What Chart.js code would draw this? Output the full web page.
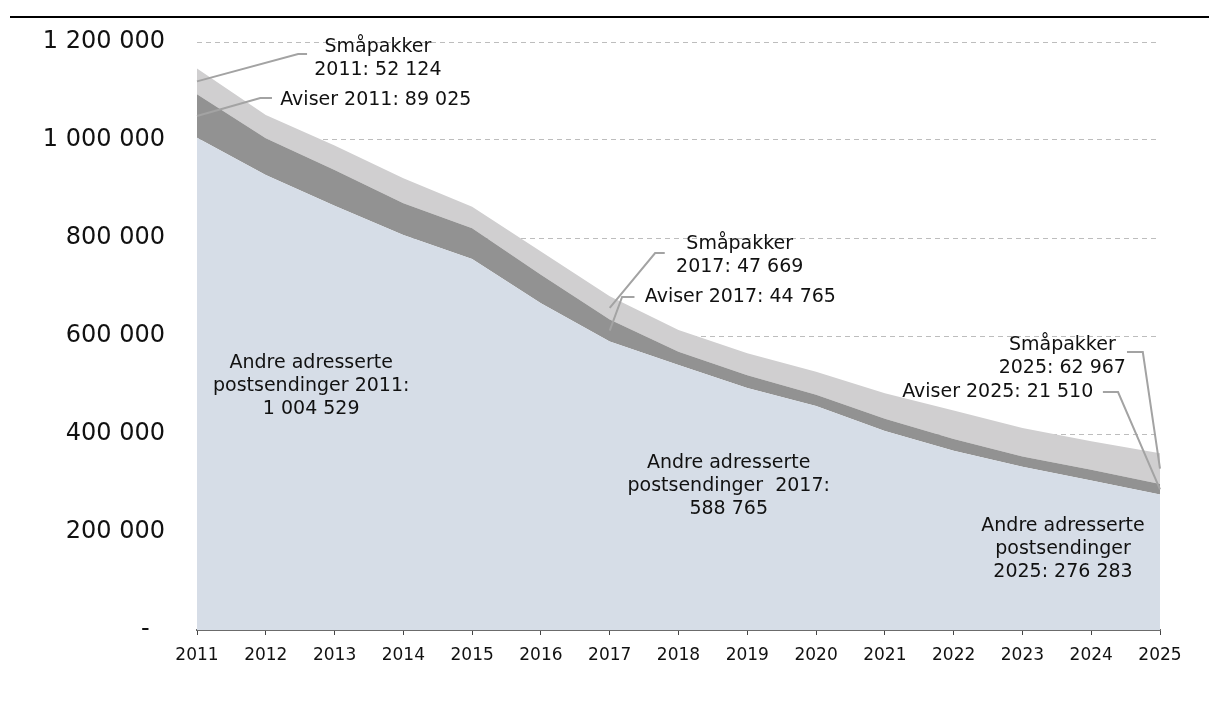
<!DOCTYPE html>
<html>
<head>
<meta charset="utf-8">
<script src="https://cdn.jsdelivr.net/npm/chart.js@4.4.0/dist/chart.umd.min.js"></script>
<style>
	html, body { margin: 0; padding: 0; background: #fff; }
	#wrap { position: relative; width: 1209px; height: 715px; }
	#topline { position: absolute; left: 10px; right: 0; top: 16px; height: 2px; background: #000; }
</style>
</head>
<body>
<div id="wrap">
	<canvas id="mycanvas" width="1209" height="715"></canvas>
	<div id="topline"></div>
</div>
<script>
var years = ['2011', '2012', '2013', '2014', '2015', '2016', '2017', '2018', '2019', '2020', '2021', '2022', '2023', '2024', '2025'];
var andre = [1004529, 928700, 866000, 806000, 757000, 667000, 588765, 541000, 494000, 457000, 406000, 366000, 333000, 305000, 276283];
var aviser = [89025, 75000, 73000, 65000, 63000, 58000, 44765, 27000, 26000, 23000, 25000, 24000, 21000, 22000, 21510];
var smapakker = [52124, 47500, 50000, 51000, 44000, 47500, 47669, 44000, 45000, 47000, 52000, 58000, 58000, 58000, 62967];
var yTicks = ['-\u00a0\u00a0', '200 000', '400 000', '600 000', '800 000', '1 000 000', '1 200 000'];

var font = '"DejaVu Sans", Verdana, sans-serif';

// text notes, placed in axis units (x = year index, y = value)
var notes = [
	{ x: 2.63, y: 1166000, align: 'center', lines: ['Småpakker', '2011: 52 124'] },
	{ x: 1.21, y: 1081600, align: 'left', lines: ['Aviser 2011: 89 025'] },
	{ x: 7.89, y: 765000, align: 'center', lines: ['Småpakker', '2017: 47 669'] },
	{ x: 6.51, y: 679600, align: 'left', lines: ['Aviser 2017: 44 765'] },
	{ x: 1.66, y: 498000, align: 'center', lines: ['Andre adresserte', 'postsendinger 2011:', '1 004 529'] },
	{ x: 7.73, y: 293000, align: 'center', lines: ['Andre adresserte', 'postsendinger  2017:', '588 765'] },
	{ x: 12.59, y: 165000, align: 'center', lines: ['Andre adresserte', 'postsendinger', '2025: 276 283'] },
	{ x: 12.58, y: 558000, align: 'center', lines: ['Småpakker', '2025: 62 967'] },
	{ x: 13.03, y: 485700, align: 'right', lines: ['Aviser 2025: 21 510'] }
];

// leader lines, from the band to the note
var leaders = [
	[[0, 1119600], [1.47, 1175500], [1.60, 1175500]],
	[[0, 1049000], [0.92, 1085700], [1.09, 1085700]],
	[[6, 657400], [6.66, 769400], [6.80, 769400]],
	[[6, 611150], [6.18, 679600], [6.36, 679600]],
	[[14, 329300], [13.75, 567300], [13.52, 567300]],
	[[14, 287000], [13.39, 485700], [13.17, 485700]]
];

var notePlugin = {
	id: 'notes',
	afterDatasetsDraw: function(chart) {
		var ctx = chart.ctx;
		var xs = chart.scales.x;
		var ys = chart.scales.y;
		ctx.save();
		ctx.strokeStyle = '#a3a3a3';
		ctx.lineWidth = 2;
		leaders.forEach(function(l) {
			ctx.beginPath();
			l.forEach(function(p, i) {
				var px = xs.getPixelForValue(p[0]);
				var py = ys.getPixelForValue(p[1]);
				if (i == 0) ctx.moveTo(px, py); else ctx.lineTo(px, py);
			});
			ctx.stroke();
		});
		ctx.fillStyle = '#111';
		ctx.font = '19px ' + font;
		ctx.textBaseline = 'middle';
		notes.forEach(function(n) {
			var px = xs.getPixelForValue(n.x);
			var py = ys.getPixelForValue(n.y);
			var lh = 23;
			var start = py - (n.lines.length - 1) * lh / 2;
			ctx.textAlign = n.align;
			n.lines.forEach(function(t, i) {
				ctx.fillText(t, px, start + i * lh);
			});
		});
		ctx.restore();
	}
};

var chartdata = {
	labels: years,
	datasets: [
		{
			label: 'Andre adresserte postsendinger',
			data: andre,
			backgroundColor: '#d6dde7',
			fill: 'origin'
		},
		{
			label: 'Aviser',
			data: aviser,
			backgroundColor: '#929292',
			fill: '-1'
		},
		{
			label: 'Småpakker',
			data: smapakker,
			backgroundColor: '#d0cfd0',
			fill: '-1'
		}
	]
};

var ctx = document.getElementById('mycanvas');

var areaChart = new Chart(ctx, {
	type: 'line',
	data: chartdata,
	plugins: [notePlugin],
	options: {
		responsive: false,
		animation: false,
		layout: { padding: { top: 42, right: 49, bottom: 0, left: 0 } },
		elements: {
			line: { borderWidth: 0, tension: 0 },
			point: { radius: 0 }
		},
		plugins: {
			legend: { display: false },
			tooltip: { enabled: false }
		},
		scales: {
			x: {
				offset: false,
				grid: { display: true, drawOnChartArea: false, drawTicks: true, tickLength: 5, color: '#444', lineWidth: 1 },
				border: { display: true, color: '#6b6b6b', width: 2 },
				ticks: { font: { family: font, size: 17 }, color: '#111', padding: 10, maxRotation: 0, autoSkip: false },
				afterFit: function(s) { s.height = 85; }
			},
			y: {
				stacked: true,
				min: 0,
				max: 1200000,
				grid: { color: '#bdbdbd', lineWidth: 1, drawTicks: false },
				border: { display: false, dash: [5, 4] },
				ticks: {
					stepSize: 200000,
					padding: 32,
					color: '#111',
					font: { family: font, size: 24 },
					callback: function(v, i) { return yTicks[i]; }
				},
				afterFit: function(s) {
					s.width = 197;
					s.paddingTop = 0;  // labels' padding would push the plot down
				}
			}
		}
	}
});
</script>
</body>
</html>
